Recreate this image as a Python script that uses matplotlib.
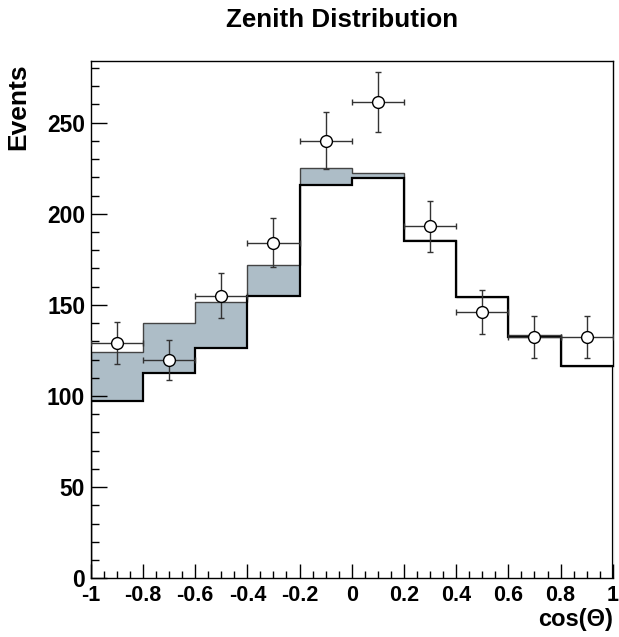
import numpy as np
import matplotlib
matplotlib.use("Agg")
import matplotlib.pyplot as plt

plt.rcParams["font.family"] = ["Liberation Sans", "DejaVu Sans"]
plt.rcParams["font.weight"] = "bold"

# bin edges in cos(theta)
edges = [-1.0, -0.8, -0.6, -0.4, -0.2, 0.0, 0.2, 0.4, 0.6, 0.8, 1.0]
# lower (black) and upper (grey) histogram of the band
mc_low = [97.1, 112.4, 126.5, 154.9, 215.7, 219.6, 184.9, 154.5, 132.4, 116.5]
mc_high = [123.9, 140.2, 151.6, 172.0, 224.9, 222.4, 185.9, 154.5, 133.3, 116.5]
# data points
data_x = [-0.9, -0.7, -0.5, -0.3, -0.1, 0.1, 0.3, 0.5, 0.7, 0.9]
data_y = [129.0, 120.0, 155.1, 184.1, 240.2, 261.4, 193.1, 146.1, 132.4, 132.2]
data_err = [11.4, 11.0, 12.5, 13.5, 15.5, 16.3, 13.9, 12.1, 11.5, 11.5]
bin_half = [0.1] * 10

fig = plt.figure(figsize=(6.19, 6.37), dpi=100)
ax = fig.add_axes([0.1465, 0.0922, 0.8435, 0.8116])

# band between the two histograms
lo_step = np.append(mc_low, mc_low[-1])
hi_step = np.append(mc_high, mc_high[-1])
ax.fill_between(edges, lo_step, hi_step, step="post", color="#adbdc7", lw=0, zorder=1)
ax.stairs(mc_high, edges, color="#444444", lw=1.0, zorder=2)
ax.stairs(mc_low, edges, color="black", lw=1.6, zorder=3)

ax.errorbar(data_x, data_y, yerr=data_err, xerr=bin_half, fmt="o",
            color="#333333", ecolor="#333333", elinewidth=1.0, capsize=2.5,
            capthick=1.0, markersize=8.5, markerfacecolor="white",
            markeredgecolor="black", markeredgewidth=1.0, zorder=4)

ax.set_xlim(-1, 1)
ax.set_ylim(0, 283.7)

ax.set_xticks(np.arange(-1, 1.01, 0.2))
ax.set_xticklabels(["-1", "-0.8", "-0.6", "-0.4", "-0.2", "0",
                    "0.2", "0.4", "0.6", "0.8", "1"])
ax.set_xticks(np.arange(-1, 1.01, 0.05), minor=True)
ax.set_yticks(np.arange(0, 251, 50))
ax.set_yticks(np.arange(0, 281, 10), minor=True)

ax.tick_params(axis="both", which="both", direction="in", width=1.0,
               colors="black")
ax.tick_params(axis="x", which="major", length=10, pad=5, labelsize=15.5)
ax.tick_params(axis="x", which="minor", length=5)
ax.tick_params(axis="y", which="major", length=11.5, pad=4, labelsize=16.5)
ax.tick_params(axis="y", which="minor", length=5.8)
for lab in ax.get_xticklabels() + ax.get_yticklabels():
    lab.set_fontweight("bold")

for s in ax.spines.values():
    s.set_linewidth(1.0)
ax.spines["right"].set_bounds(mc_low[-1], 283.7)
ax.plot([edges[-1], edges[-1]], [0, mc_low[-1]], color="#cccccc", lw=1.0,
        clip_on=False, zorder=0)

fig.text(0.552, 0.957, "Zenith Distribution", ha="center", va="baseline",
         fontsize=18.7, fontweight="bold")
fig.text(0.030, 0.901, "Events", rotation=90, ha="center", va="top",
         fontsize=19, fontweight="bold")
fig.text(0.990, 0.018, "cos(Θ)", ha="right", va="baseline",
         fontsize=17, fontweight="bold")

fig.savefig("out.png", dpi=100)
